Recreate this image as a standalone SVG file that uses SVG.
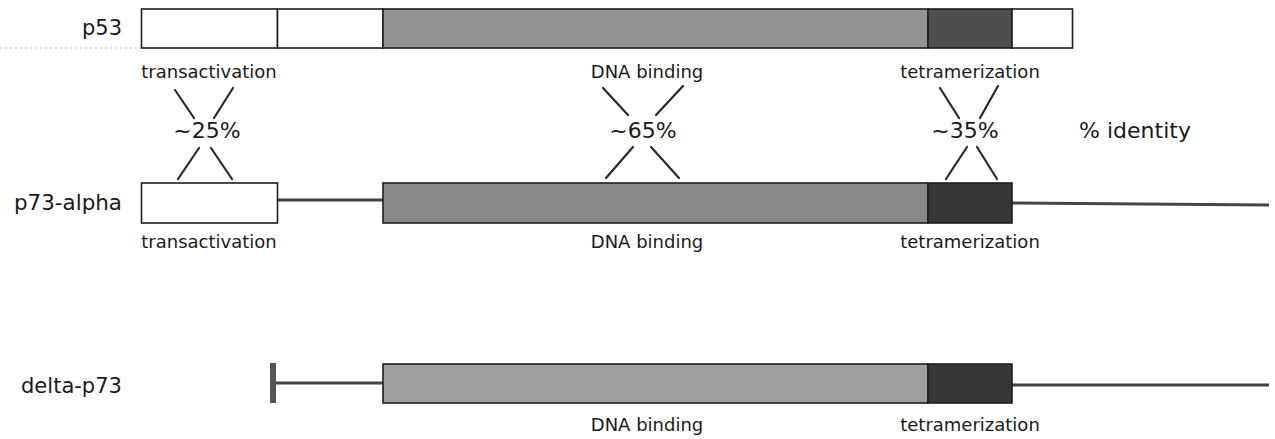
<svg xmlns="http://www.w3.org/2000/svg" width="1275" height="439" viewBox="0 0 1275 439">
  <style>
    text { font-family: "DejaVu Sans", Verdana, sans-serif; fill: #1a1a1a; }
    .row { font-size: 21px; text-anchor: end; }
    .dom { font-size: 18px; text-anchor: middle; }
    .pct { font-size: 22px; text-anchor: middle; }
    .box { stroke: #1e1e1e; stroke-width: 1.6; }
    .white { fill: #ffffff; }
    .linker { stroke: #444; stroke-width: 3; fill: none; }
    .tick { stroke: #2a2a2a; stroke-width: 2.2; stroke-linecap: round; fill: none; }
  </style>

  <!-- faint baseline rule left of the p53 bar -->
  <line x1="0" y1="48" x2="141" y2="48" stroke="#bbbbbb" stroke-width="1" stroke-dasharray="2 3"/>

  <!-- p53 -->
  <g id="p53">
    <text class="row" x="122" y="35" textLength="40" lengthAdjust="spacingAndGlyphs">p53</text>
    <rect class="box white" x="141.5" y="9" width="136" height="39"/>
    <rect class="box white" x="277.5" y="9" width="105.5" height="39"/>
    <rect class="box" x="383" y="9" width="545" height="39" fill="#939393"/>
    <rect class="box" x="928" y="9" width="84" height="39" fill="#4e4e4e"/>
    <rect class="box white" x="1012" y="9" width="60.5" height="39"/>
    <text class="dom" x="209" y="78">transactivation</text>
    <text class="dom" x="647" y="78">DNA binding</text>
    <text class="dom" x="970" y="78">tetramerization</text>
  </g>

  <!-- p73-alpha -->
  <g id="p73-alpha">
    <text class="row" x="122" y="210" textLength="108" lengthAdjust="spacingAndGlyphs">p73-alpha</text>
    <line class="linker" x1="277" y1="200" x2="383" y2="200"/>
    <line class="linker" x1="1012" y1="203" x2="1269" y2="205"/>
    <rect class="box white" x="141.5" y="183" width="136" height="40"/>
    <rect class="box" x="383" y="183" width="545" height="40" fill="#888888"/>
    <rect class="box" x="928" y="183" width="84" height="40" fill="#363636"/>
    <text class="dom" x="209" y="248">transactivation</text>
    <text class="dom" x="647" y="248">DNA binding</text>
    <text class="dom" x="970" y="248">tetramerization</text>
  </g>

  <!-- delta-p73 -->
  <g id="delta-p73">
    <text class="row" x="122" y="393" textLength="101" lengthAdjust="spacingAndGlyphs">delta-p73</text>
    <rect x="270" y="363" width="6" height="40" fill="#555555"/>
    <line class="linker" x1="276" y1="383" x2="383" y2="383"/>
    <line class="linker" x1="1012" y1="385" x2="1269" y2="385"/>
    <rect class="box" x="383" y="364" width="545" height="39" fill="#9e9e9e"/>
    <rect class="box" x="928" y="364" width="84" height="39" fill="#363636"/>
    <text class="dom" x="647" y="431">DNA binding</text>
    <text class="dom" x="970" y="431">tetramerization</text>
  </g>

  <!-- identity crosses between p53 and p73-alpha domains -->
  <g id="connectors">
    <path class="tick" d="M175,90 L194,118 M233,88 L214,118 M199,148 L178,179 M211,148 L232,179"/>
    <path class="tick" d="M603,88 L628,115 M683,86 L656,115 M633,147 L606,178 M651,147 L679,178"/>
    <path class="tick" d="M940,88 L959,118 M998,86 L980,118 M967,147 L946,179 M977,147 L997,179"/>
  </g>

  <g id="identity-values">
    <text class="pct" x="207" y="138">~25%</text>
    <text class="pct" x="643" y="138">~65%</text>
    <text class="pct" x="965" y="138">~35%</text>
    <text x="1135" y="138" font-size="22" text-anchor="middle">% identity</text>
  </g>
</svg>
